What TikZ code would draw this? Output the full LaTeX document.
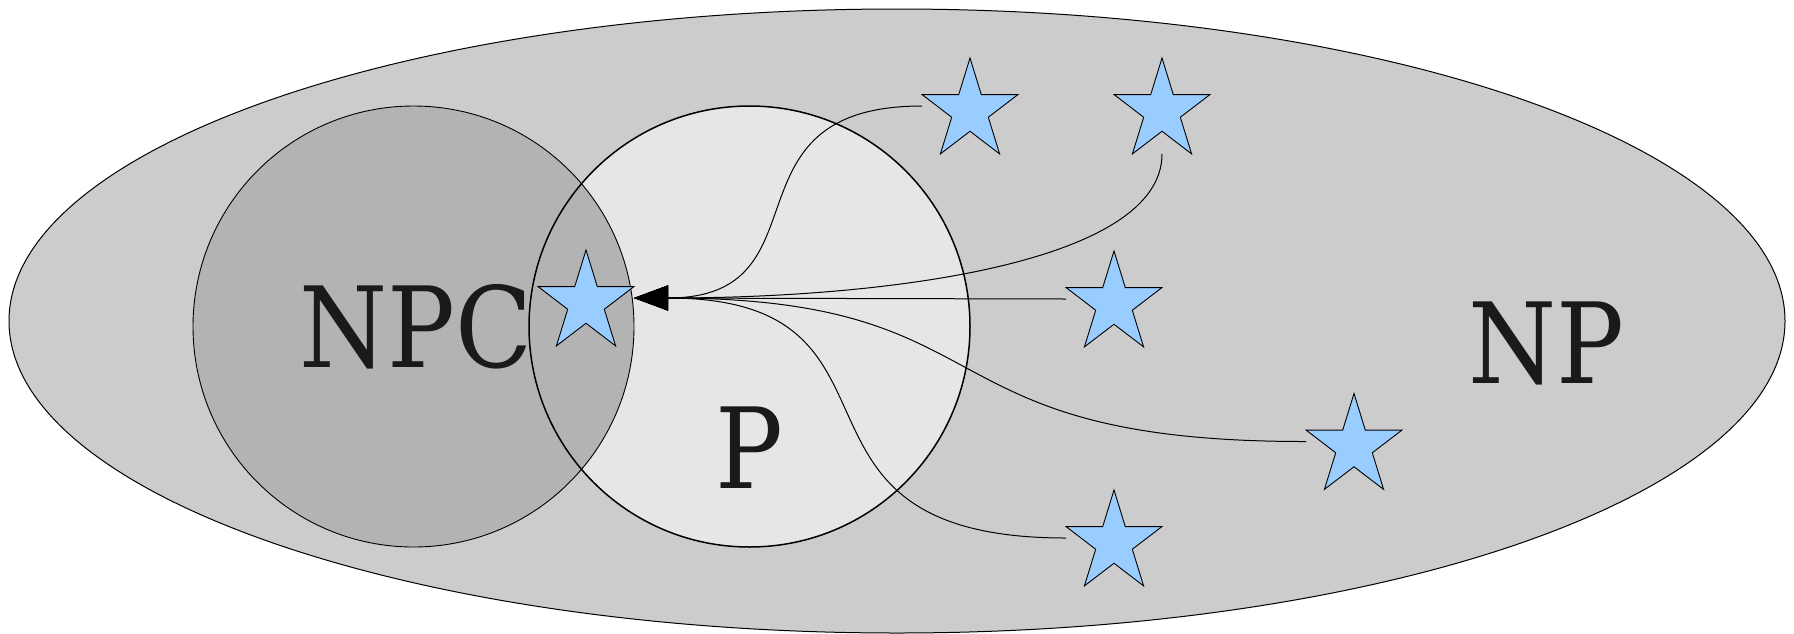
\documentclass[tikz,border=0pt]{standalone}
\usepackage{fontspec}
\setmainfont{DejaVu Serif}
\usepackage{tikz}
\usetikzlibrary{shapes.geometric, positioning, arrows.meta, calc}
\definecolor{npgray}{HTML}{CCCCCC}
\definecolor{npcgray}{HTML}{B3B3B3}
\definecolor{pgray}{HTML}{E6E6E6}
\definecolor{starblue}{HTML}{99CCFF}
\definecolor{inkgray}{HTML}{1A1A1A}

\begin{document}
\begin{tikzpicture}[
        x=1pt, y=-1pt,
        set/.style={circle, minimum size=441pt, inner sep=0pt},
        problem/.style={star, star points=5, star point ratio=2.618, draw, line width=0.9pt,
          fill=starblue, minimum size=106pt, inner sep=0pt, xscale=0.95},
        classname/.style={anchor=base, inner sep=0pt, text=inkgray, xscale=0.9,
          font=\fontsize{112}{134}\selectfont},
        reduce/.style={line width=1pt, -{Triangle[length=34pt,width=25pt]}}
      ]
        \useasboundingbox (0,0) rectangle (1794,633);
        \node[ellipse, draw, fill=npgray, line width=1pt, inner sep=0pt,
          minimum width=1776pt, minimum height=624pt] (np) at (897,321) {};
        \node[set, fill=pgray] (p) at (749.5,326.5) {};
        \node[set, draw, fill=npcgray, line width=0.9pt] (npc) at (413.5,326.5) {};
        \draw[line width=1.5pt] (p.center) circle[radius=220.5pt];

        \node[classname] (npc-label) at (416,367) {NPC};
        \node[classname] (p-label) at (749,488) {P};
        \node[classname] (np-label) at (1546,383) {NP};

        \node[problem] (hard) at (586,303) {};
        \node[problem] (q1) at (970,111) {};
        \node[problem] (q2) at (1162,111) {};
        \node[problem] (q3) at (1114,304) {};
        \node[problem] (q4) at (1354,446.5) {};
        \node[problem] (q5) at (1114,543) {};

        \coordinate (hub) at ($(hard)+(48,-5)$);
        \draw[reduce] ($(q1)+(-48,-5)$) .. controls (716,106) and (832,298) .. (hub);
        \draw[reduce] ($(q2)+(0,43)$) .. controls (1162,260) and (900,298) .. (hub);
        \draw[reduce] ($(q3)+(-48,-5)$) -- (hub);
        \draw[reduce] ($(q4)+(-48,-5)$) .. controls (913,442) and (1016,298) .. (hub);
        \draw[reduce] ($(q5)+(-48,-5)$) .. controls (754,538) and (933,298) .. (hub);
      \end{tikzpicture}
\end{document}
